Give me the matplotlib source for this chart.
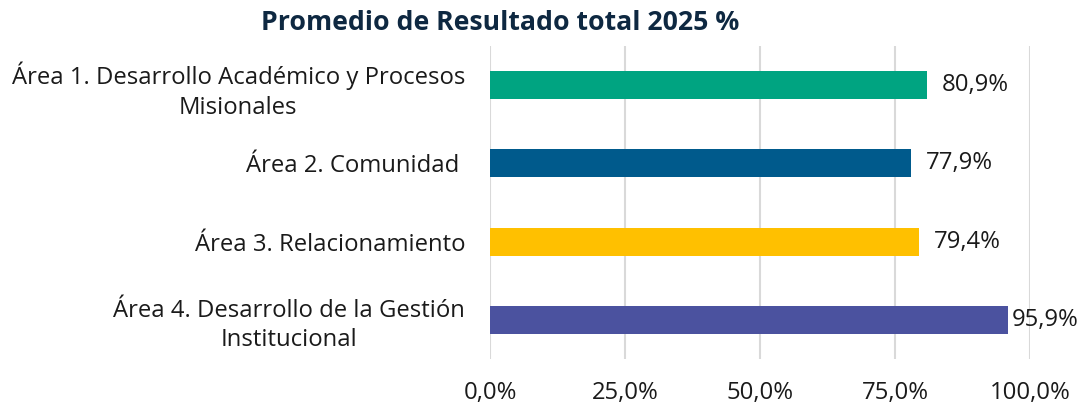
import matplotlib
matplotlib.use("Agg")
import matplotlib.pyplot as plt
from matplotlib.ticker import FuncFormatter

categories = [
    "Área 1. Desarrollo Académico y Procesos\nMisionales",
    "Área 2. Comunidad ",
    "Área 3. Relacionamiento",
    "Área 4. Desarrollo de la Gestión\nInstitucional",
]
values = [80.9, 77.9, 79.4, 95.9]
colors = ["#00A481", "#005A8C", "#FFC000", "#4B529F"]
xticks = [0, 25, 50, 75, 100]
title = "Promedio de Resultado total 2025 %"

plt.rcParams['font.family'] = ['Open Sans', 'DejaVu Sans']

fig = plt.figure(figsize=(10.86, 4.07), dpi=100)
ax = fig.add_axes([0.4512, 0.118, 0.4972, 0.769])

ypos = list(range(len(categories)))
ax.barh(ypos, values, height=0.36, color=colors, zorder=3)
ax.set_ylim(len(categories) - 0.5, -0.5)
ax.set_xlim(0, 100)
ax.set_xticks(xticks)
ax.xaxis.set_major_formatter(FuncFormatter(lambda v, p: f"{v:.1f}%".replace(".", ",")))
ax.set_yticks(ypos)
ax.set_yticklabels(categories, multialignment="center", linespacing=1.3)
ax.tick_params(axis="both", length=0, labelsize=17.2, colors="#1a1a1a")
ax.tick_params(axis="y", pad=18)
ax.tick_params(axis="x", pad=16)
ax.grid(axis="x", color="#d9d9d9", linewidth=1.5, zorder=0)
for s in ax.spines.values():
    s.set_visible(False)

for y, v in zip(ypos, values):
    off = 3 if v > 90 else 11
    ax.annotate(f"{v:.1f}%".replace(".", ","), xy=(v, y), xytext=(off, 0),
                textcoords="offset points", va="center", ha="left",
                fontsize=17.2, color="#1a1a1a")

fig.text(0.461, 0.943, title, ha="center", va="center", fontsize=19.2,
         fontweight="bold", color="#0E2841")

fig.savefig("out.png", dpi=100)
